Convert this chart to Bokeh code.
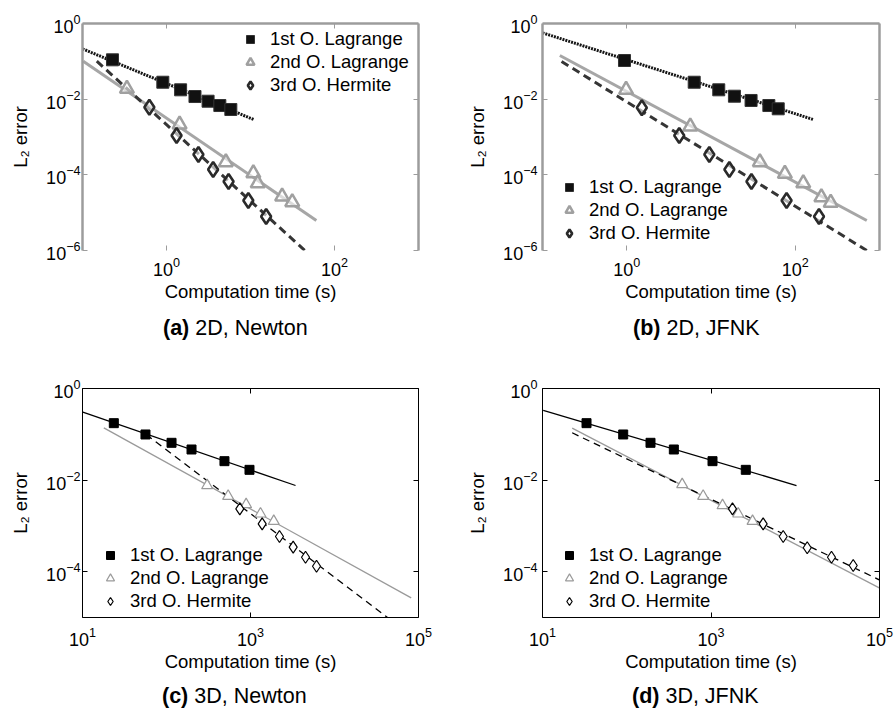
from bokeh.plotting import figure
from bokeh.models import LogAxis, FixedTicker, CustomJSTickFormatter, Div
from bokeh.layouts import column, row
from bokeh.embed import file_html
from bokeh.resources import INLINE

FONT = "Liberation Sans"
SERIES_LABELS = ["1st O. Lagrange", "2nd O. Lagrange", "3rd O. Hermite"]
X_LABEL = "Computation time (s)"
Y_LABEL = "L\u2082 error"
CAPTIONS = [("(a)", "2D, Newton"), ("(b)", "2D, JFNK"),
            ("(c)", "3D, Newton"), ("(d)", "3D, JFNK")]

# ---------------- (a) 2D, Newton ----------------
a_lag1_x = [0.2275, 0.904, 1.472, 2.183, 3.126, 4.315, 5.834]
a_lag1_y = [0.1096, 0.02805, 0.01766, 0.01175, 0.00883, 0.00679, 0.00533]
a_lag1_fit_x = [0.1, 11.1]
a_lag1_fit_y = [0.214, 0.00285]
a_lag2_x = [0.338, 1.432, 5.09, 10.81, 12.19, 23.8, 31.4]
a_lag2_y = [0.0188, 0.00214, 2.16e-4, 1.10e-4, 6.0e-5, 2.67e-5, 1.89e-5]
a_lag2_fit_x = [0.102, 60.8]
a_lag2_fit_y = [0.1007, 6.19e-6]
a_her3_x = [0.625, 1.318, 2.399, 3.589, 5.483, 9.42, 15.35]
a_her3_y = [0.00614, 0.001094, 3.44e-4, 1.38e-4, 6.65e-5, 2.09e-5, 7.9e-6]
a_her3_fit_x = [0.148, 63.1]
a_her3_fit_y = [0.1007, 4.9e-7]

# ---------------- (b) 2D, JFNK ----------------
b_lag1_x = [0.940, 6.32, 12.36, 18.97, 29.9, 48.6, 62.8]
b_lag1_y = [0.1052, 0.02805, 0.01766, 0.01197, 0.00923, 0.00679, 0.00556]
b_lag1_fit_x = [0.1, 163.7]
b_lag1_fit_y = [0.567, 0.002897]
b_lag2_x = [0.982, 5.675, 38.0, 75.3, 124.5, 204.2, 263.6]
b_lag2_y = [0.01766, 0.00189, 2.16e-4, 1.064e-4, 6.0e-5, 2.56e-5, 1.82e-5]
b_lag2_fit_x = [0.1607, 706.0]
b_lag2_fit_y = [0.1426, 6.19e-6]
b_her3_x = [1.510, 4.198, 9.55, 16.52, 30.2, 78.9, 191.4]
b_her3_y = [0.0059, 0.001094, 3.44e-4, 1.38e-4, 6.65e-5, 2.09e-5, 7.9e-6]
b_her3_fit_x = [0.1683, 706.0]
b_her3_fit_y = [0.0991, 1.0e-6]

# ---------------- (c) 3D, Newton ----------------
c_lag1_x = [23.6, 56.2, 114.8, 198.6, 489.8, 972.8]
c_lag1_y = [0.175, 0.0991, 0.0652, 0.0466, 0.0259, 0.01675]
c_lag1_fit_x = [10.1, 3436.0]
c_lag1_fit_y = [0.304, 0.00762]
c_lag2_x = [304.8, 542.0, 887.0, 1315.0, 1892.0]
c_lag2_y = [0.00762, 0.004457, 0.00293, 0.001837, 0.001268]
c_lag2_fit_x = [17.95, 81850.0]
c_lag2_fit_y = [0.1384, 2.69e-5]
c_her3_x = [746.0, 1377.0, 2213.0, 3221.0, 4519.0, 6109.0]
c_her3_y = [0.00236, 0.001109, 5.87e-4, 3.43e-4, 2.07e-4, 1.318e-4]
c_her3_fit_x = [57.3, 43150.0]
c_her3_fit_y = [0.0991, 9.86e-6]

# ---------------- (d) 3D, JFNK ----------------
d_lag1_x = [33.3, 90.8, 191.4, 362.2, 1042.0, 2588.0]
d_lag1_y = [0.175, 0.0991, 0.0652, 0.0466, 0.0259, 0.01675]
d_lag1_fit_x = [10.2, 10350.0]
d_lag1_fit_y = [0.331, 0.00762]
d_lag2_x = [455.0, 807.0, 1371.0, 2104.0, 3112.0]
d_lag2_y = [0.00802, 0.004457, 0.002786, 0.001837, 0.001268]
d_lag2_fit_x = [22.5, 99300.0]
d_lag2_fit_y = [0.1361, 4.45e-5]
d_her3_x = [1799.0, 4159.0, 7194.0, 13870.0, 26920.0, 48750.0]
d_her3_y = [0.00236, 0.001109, 5.87e-4, 3.33e-4, 2.07e-4, 1.365e-4]
d_her3_fit_x = [22.5, 99300.0]
d_her3_fit_y = [0.1079, 6.65e-5]

top_x_range = (0.1, 1000)
top_y_range = (1e-6, 1)
top_x_ticks = [1, 100]
top_y_ticks = [1e-6, 1e-4, 1e-2, 1]
bot_x_range = (10, 1e5)
bot_y_range = (1e-5, 1)
bot_x_ticks = [10, 1000, 1e5]
bot_y_ticks = [1e-4, 1e-2, 1]


def style_axis(ax, col, lw, show_labels=True, standoff=4):
    ax.major_tick_in = 5
    ax.major_tick_out = 0
    ax.minor_tick_in = 0
    ax.minor_tick_out = 0
    ax.major_tick_line_color = col
    ax.major_tick_line_width = 1
    ax.axis_line_color = col
    ax.axis_line_width = lw
    ax.major_label_text_font = FONT
    ax.major_label_text_color = "black"
    ax.axis_label_text_font = FONT
    ax.axis_label_text_font_size = "18.5px"
    ax.axis_label_text_font_style = "normal"
    ax.axis_label_text_color = "black"
    if show_labels:
        ax.major_label_text_font_size = "18px"
        ax.major_label_standoff = standoff
    else:
        ax.formatter = CustomJSTickFormatter(code="return ''")
        ax.major_label_text_font_size = "2px"
        ax.major_label_standoff = 0


def panel(kind, data, leg_loc, w, h, bl, br, bt, bb, ytick_std, xtick_std):
    top = kind == "top"
    xr, yr = (top_x_range, top_y_range) if top else (bot_x_range, bot_y_range)
    xt, yt = (top_x_ticks, top_y_ticks) if top else (bot_x_ticks, bot_y_ticks)
    p = figure(width=w, height=h, x_axis_type="log", y_axis_type="log",
               x_range=xr, y_range=yr, output_backend="svg", toolbar_location=None,
               min_border_left=bl, min_border_right=br, min_border_top=bt,
               min_border_bottom=bb)
    p.grid.visible = False
    p.background_fill_color = "white"
    p.border_fill_color = "white"
    frame_col = "#9c9c9c" if top else "black"
    frame_lw = 2.5 if top else 1
    p.outline_line_color = None

    (l1x, l1y, f1x, f1y, l2x, l2y, f2x, f2y, h3x, h3y, f3x, f3y) = data

    if top:
        p.line(f1x, f1y, line_color="#151515", line_width=3, line_dash="2 1")
        p.line(f2x, f2y, line_color="#a6a6a6", line_width=3)
        p.line(f3x, f3y, line_color="#353535", line_width=3, line_dash="8 5")
        p.scatter(l1x, l1y, marker="square", size=12, fill_color="#111111",
                  line_color="#333333", line_width=1, legend_label=SERIES_LABELS[0])
        p.scatter(l2x, l2y, marker="triangle", size=14, fill_color="white",
                  fill_alpha=0.6, line_color="#a0a0a0", line_width=2.5,
                  legend_label=SERIES_LABELS[1])
        p.scatter(h3x, h3y, marker="diamond", size=15, fill_color="white",
                  fill_alpha=0.6, line_color="#2a2a2a", line_width=2.6,
                  legend_label=SERIES_LABELS[2])
    else:
        p.line(f1x, f1y, line_color="black", line_width=1.3)
        p.line(f2x, f2y, line_color="#9a9a9a", line_width=1.3)
        p.line(f3x, f3y, line_color="black", line_width=1.3, line_dash="7 5")
        p.scatter(l1x, l1y, marker="square", size=9, fill_color="black",
                  line_color="black", legend_label=SERIES_LABELS[0])
        p.scatter(l2x, l2y, marker="triangle", size=11, fill_color="white",
                  line_color="#9a9a9a", line_width=1.2, legend_label=SERIES_LABELS[1])
        p.scatter(h3x, h3y, marker="diamond", size=12, fill_color="white",
                  line_color="black", line_width=1.2, legend_label=SERIES_LABELS[2])

    xa = p.xaxis[0]
    ya = p.yaxis[0]
    xa.ticker = FixedTicker(ticks=xt)
    ya.ticker = FixedTicker(ticks=yt)
    style_axis(xa, frame_col, frame_lw, True, xtick_std)
    style_axis(ya, frame_col, frame_lw, True, ytick_std)
    xa.axis_label = X_LABEL
    xa.axis_label_standoff = 2
    ya.axis_label = Y_LABEL
    ya.axis_label_standoff = 12
    if top:
        xa.axis_line_color = None

    ra = LogAxis(ticker=FixedTicker(ticks=yt))
    style_axis(ra, frame_col, frame_lw, False)
    p.add_layout(ra, "right")
    ta = LogAxis(ticker=FixedTicker(ticks=xt))
    style_axis(ta, frame_col, frame_lw, False)
    p.add_layout(ta, "above")

    lg = p.legend[0]
    lg.location = leg_loc
    lg.padding = 0
    lg.margin = 0
    lg.spacing = 1
    lg.glyph_width = 20
    lg.glyph_height = 22
    lg.label_height = 22
    lg.label_standoff = 10
    lg.border_line_color = None
    lg.background_fill_alpha = 0
    lg.label_text_font = FONT
    lg.label_text_font_size = "18.5px"
    lg.label_text_color = "black"
    return p


def caption(idx, w, h, pad_left, pad_top):
    bold, rest = CAPTIONS[idx]
    html = (f'<div style="font-family:\'{FONT}\';font-size:21.5px;line-height:24px;'
            f'padding-top:{pad_top}px;padding-left:{pad_left}px;white-space:nowrap;'
            f'color:black;margin:0"><b>{bold}</b> {rest}</div>')
    return Div(text=html, width=w, height=h, margin=0)


pa = panel("top",
           (a_lag1_x, a_lag1_y, a_lag1_fit_x, a_lag1_fit_y,
            a_lag2_x, a_lag2_y, a_lag2_fit_x, a_lag2_fit_y,
            a_her3_x, a_her3_y, a_her3_fit_x, a_her3_fit_y),
           (158, 154), 448, 305, 82, 30, 23, 55, 2, 6)
pb = panel("top",
           (b_lag1_x, b_lag1_y, b_lag1_fit_x, b_lag1_fit_y,
            b_lag2_x, b_lag2_y, b_lag2_fit_x, b_lag2_fit_y,
            b_her3_x, b_her3_y, b_her3_fit_x, b_her3_fit_y),
           (17, 6), 448, 305, 94, 17, 23, 55, 5, 6)
pc = panel("bottom",
           (c_lag1_x, c_lag1_y, c_lag1_fit_x, c_lag1_fit_y,
            c_lag2_x, c_lag2_y, c_lag2_fit_x, c_lag2_fit_y,
            c_her3_x, c_her3_y, c_her3_fit_x, c_her3_fit_y),
           (18, 5), 448, 332, 82, 30, 46, 57, 2, 9)
pd = panel("bottom",
           (d_lag1_x, d_lag1_y, d_lag1_fit_x, d_lag1_fit_y,
            d_lag2_x, d_lag2_y, d_lag2_fit_x, d_lag2_fit_y,
            d_her3_x, d_her3_y, d_her3_fit_x, d_her3_fit_y),
           (17, 5), 448, 332, 94, 17, 46, 57, 5, 9)

cap_a = caption(0, 448, 37, 163, 11)
cap_b = caption(1, 448, 37, 185, 11)
cap_c = caption(2, 448, 37, 162, 10)
cap_d = caption(3, 448, 37, 184, 10)

layout = column(row(pa, pb), row(cap_a, cap_b), row(pc, pd), row(cap_c, cap_d))
open("out.html", "w").write(file_html(layout, INLINE))
